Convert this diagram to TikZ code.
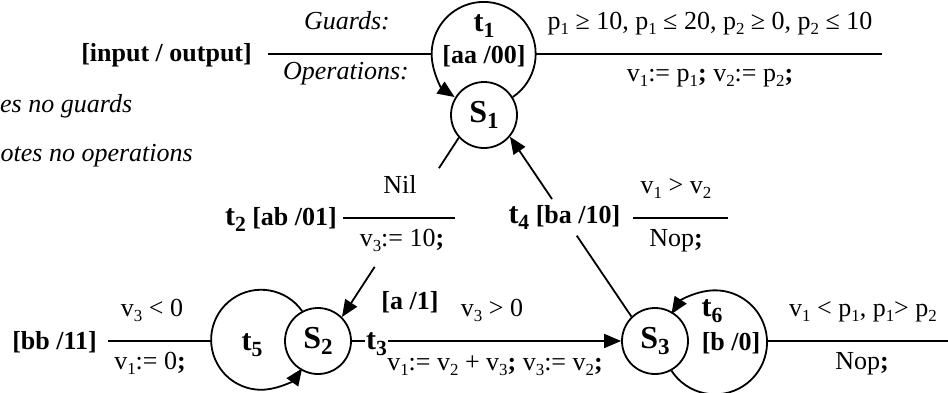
\documentclass[tikz,border=0pt]{standalone}
\usepackage{fontspec}
\setmainfont{Liberation Serif}
\usepackage{graphicx}
\usetikzlibrary{arrows.meta,calc}
\newcommand\sbs[1]{\raisebox{-0.2em}{\scalebox{0.65}{#1}}}
\newcommand\bsb[1]{\raisebox{-0.2em}{\scalebox{0.72}{#1}}}
\begin{document}
\begin{tikzpicture}[x=1pt,y=-1pt,
  every node/.style={inner sep=0pt, font=\fontsize{26}{30}\selectfont},
  stt/.style={circle, draw, line width=1.8pt, minimum size=66pt, fill=white, font=\fontsize{32}{36}\selectfont\bfseries},
  io/.style={anchor=base, font=\fontsize{26}{30}\selectfont\bfseries},
  tn/.style={anchor=base, font=\fontsize{30}{34}\selectfont\bfseries},
  txt/.style={anchor=base},
  lgd/.style={anchor=base, font=\fontsize{26}{30}\selectfont\itshape},
  ln/.style={line width=1.8pt},
  arr/.style={-{Triangle[length=17pt,width=14pt]}},
]
\useasboundingbox (0,0) rectangle (948,392);

% states
\node[stt] (S1) at (484,115) {S\bsb{1}};
\node[stt] (S2) at (318,341) {S\bsb{2}};
\node[stt] (S3) at (655,341) {S\bsb{3}};

% self loops
\draw[ln,arr] (S1.32) arc[start angle=56,end angle=-236,radius=52];
\draw[ln,arr] (S2.118) arc[start angle=-35,end angle=-325,radius=50];
\draw[ln,arr] (S3.-61) arc[start angle=147,end angle=-147,radius=52];

\coordinate (t1L) at (432,54);
\coordinate (t1R) at (536,54);
\coordinate (t5L) at (211,341);
\coordinate (t6R) at (768,341);

% legend / guard lines
\coordinate (lg) at (268,54);
\draw[ln] (lg) -- (t1L);
\coordinate (t1e) at (882,54);
\draw[ln] (t1R) -- (t1e);
\coordinate (t5s) at (108,341);
\draw[ln] (t5s) -- (t5L);
\coordinate (t6e) at (948,341);
\draw[ln] (t6R) -- (t6e);

% t2 : S1 -> S2
\coordinate (t2a) at ($(S1.222)!0.17!(S2.45)$);
\coordinate (t2b) at ($(S1.222)!0.72!(S2.45)$);
\draw[ln] (S1.222) -- (t2a);
\draw[ln,arr] (t2b) -- (S2.45);
\coordinate (g2a) at (343,218);
\coordinate (g2b) at (455,218);
\draw[ln] (g2a) -- (g2b);

% t4 : S3 -> S1
\coordinate (t4a) at ($(S3.134)!0.45!(S1.-40)$);
\coordinate (t4b) at ($(S3.134)!0.654!(S1.-40)$);
\draw[ln] (S3.134) -- (t4a);
\draw[ln,arr] (t4b) -- (S1.-40);
\coordinate (g4a) at (633,218);
\coordinate (g4b) at (728,218);
\draw[ln] (g4a) -- (g4b);

% t3 : S2 -> S3
\draw[ln,arr] (S2.east) -- (S3.west);
\node[tn, anchor=base west, fill=white, inner xsep=1pt, inner ysep=0pt] (t3) at (365,349) {t\bsb{3}\hspace{6pt}};

% legend texts
\node[lgd] (gd) at (347,29) {Guards:};
\node[io, anchor=base east] (iol) at (252,61) {[input / output]};
\node[lgd] (op) at (346,79) {Operations:};
\node[lgd, anchor=base west] (ng) at (0,112) {es no guards};
\node[lgd, anchor=base west] (no) at (0.5,161) {otes no operations};

% t1
\node[tn] (t1) at (484,31) {t\bsb{1}};
\node[io] (t1io) at (484,63) {[aa /00]};
\node[txt] (t1g) at (710,29) {p\sbs{1} ≥ 10, p\sbs{1} ≤ 20, p\sbs{2} ≥ 0, p\sbs{2} ≤ 10};
\node[txt] (t1o) at (710,81) {v\sbs{1}:= p\sbs{1}\textbf{;} v\sbs{2}:= p\sbs{2}\textbf{;}};

% t2
\node[io, anchor=base east] (t2l) at (337,225) {{\fontsize{30}{34}\selectfont t\bsb{2}} [ab /01]};
\node[txt] (t2g) at (400,193) {Nil};
\node[txt] (t2o) at (402,246) {v\sbs{3}:= 10\textbf{;}};

% t4
\node[io, anchor=center] (t4l) at ($(S3.134)!0.552!(S1.-40)$) {{\fontsize{30}{34}\selectfont t\bsb{4}} [ba /10]};
\node[txt] (t4g) at (676,193) {v\sbs{1} > v\sbs{2}};
\node[txt] (t4o) at (676,246) {Nop\textbf{;}};

% t3
\node[io] (t3io) at (410,309) {[a /1]};
\node[txt] (t3g) at (492,316) {v\sbs{3} > 0};
\node[txt] (t3o) at (495,370) {v\sbs{1}:= v\sbs{2} + v\sbs{3}\textbf{;} v\sbs{3}:= v\sbs{2}\textbf{;}};

% t5
\node[tn] (t5) at (252,350) {t\bsb{5}};
\node[io, anchor=base east] (t5io) at (97,349) {[bb /11]};
\node[txt] (t5g) at (152,316) {v\sbs{3} < 0};
\node[txt] (t5o) at (150,369) {v\sbs{1}:= 0\textbf{;}};

% t6
\node[tn] (t6) at (712,316) {t\bsb{6}};
\node[io] (t6io) at (731,350) {[b /0]};
\node[txt] (t6g) at (863,316) {v\sbs{1} < p\sbs{1}, p\sbs{1}> p\sbs{2}};
\node[txt] (t6o) at (862,369) {Nop\textbf{;}};
\end{tikzpicture}
\end{document}
